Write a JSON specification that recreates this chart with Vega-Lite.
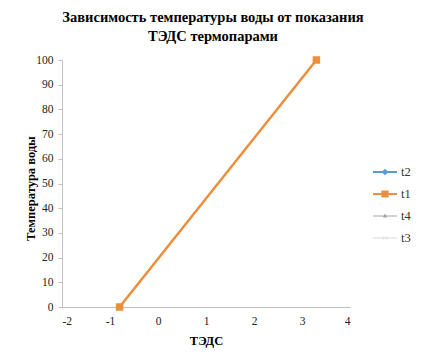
{
  "$schema": "https://vega.github.io/schema/vega-lite/v6.json",
  "autosize": {"type": "none"},
  "width": 288,
  "height": 247,
  "padding": {"left": 62, "top": 60, "right": 78, "bottom": 57},
  "background": "white",
  "config": {
    "view": {"stroke": null},
    "font": "Liberation Serif"
  },
  "title": {
    "text": ["Зависимость температуры воды от показания", "ТЭДС термопарами"],
    "font": "Liberation Serif",
    "fontSize": 14.5,
    "fontWeight": "bold",
    "color": "#000000",
    "anchor": "middle",
    "frame": "group",
    "lineHeight": 19,
    "offset": 10,
    "dx": 7
  },
  "data": {
    "values": [
      {"series": "t1", "x": -0.8, "y": 0},
      {"series": "t1", "x": 3.3, "y": 100}
    ]
  },
  "encoding": {
    "x": {
      "field": "x",
      "type": "quantitative",
      "scale": {"domain": [-2, 4], "nice": false, "zero": false},
      "axis": {
        "title": "ТЭДС",
        "values": [-2, -1, 0, 1, 2, 3, 4],
        "labelExpr": "replace(datum.label, '−', '-')",
        "grid": false,
        "ticks": false,
        "domainColor": "#BFBFBF",
        "domainWidth": 1,
        "labelFont": "Liberation Serif",
        "labelFontSize": 11.5,
        "labelColor": "#222222",
        "labelPadding": 8,
        "titleFont": "Liberation Serif",
        "titleFontSize": 12.5,
        "titleFontWeight": "bold",
        "titleColor": "#000000",
        "titlePadding": 8
      }
    },
    "y": {
      "field": "y",
      "type": "quantitative",
      "scale": {"domain": [0, 100], "nice": false},
      "axis": {
        "title": "Температура воды",
        "values": [0, 10, 20, 30, 40, 50, 60, 70, 80, 90, 100],
        "grid": false,
        "ticks": true,
        "tickSize": 4,
        "tickColor": "#BFBFBF",
        "domainColor": "#BFBFBF",
        "domainWidth": 1,
        "labelFont": "Liberation Serif",
        "labelFontSize": 11.5,
        "labelColor": "#222222",
        "labelPadding": 5,
        "titleFont": "Liberation Serif",
        "titleFontSize": 12.5,
        "titleFontWeight": "bold",
        "titleColor": "#000000",
        "titleX": -25,
        "titleY": 128
      }
    },
    "color": {
      "field": "series",
      "type": "nominal",
      "scale": {
        "domain": ["t2", "t1", "t4", "t3"],
        "range": ["#5B9BD5", "#EC8F3A", "#A5A5A5", "#D9D9D9"]
      },
      "legend": {
        "title": null,
        "orient": "none",
        "legendX": 311,
        "legendY": 100,
        "symbolSize": 576,
        "rowPadding": 3,
        "labelOffset": 4,
        "labelFont": "Liberation Serif",
        "labelFontSize": 12.5,
        "labelColor": "#333333",
        "symbolStrokeWidth": 0,
        "encode": {
          "symbols": {
            "update": {
              "fill": {"signal": "scale('color', datum.value)"},
              "strokeWidth": {"value": 0},
              "opacity": {"value": 1},
              "shape": {"signal": "datum.value === 't2' ? 'M-1,-0.08H1V0.08H-1Z M0,-0.28L0.28,0L0,0.28L-0.28,0Z' : datum.value === 't1' ? 'M-1,-0.09H1V0.09H-1Z M-0.3,-0.3H0.3V0.3H-0.3Z' : datum.value === 't4' ? 'M-1,-0.04H1V0.04H-1Z M0,-0.2L0.18,0.12H-0.18Z' : 'M-1,-0.04H1V0.04H-1Z M-0.18,-0.14L0,-0.03L0.18,-0.14L0.22,-0.1L0.05,0L0.22,0.1L0.18,0.14L0,0.03L-0.18,0.14L-0.22,0.1L-0.05,0L-0.22,-0.1Z'"}
            }
          }
        }
      }
    }
  },
  "layer": [
    {
      "mark": {"type": "line", "strokeWidth": 2.5}
    },
    {
      "mark": {"type": "point", "shape": "square", "filled": true, "size": 56, "opacity": 1}
    }
  ]
}
